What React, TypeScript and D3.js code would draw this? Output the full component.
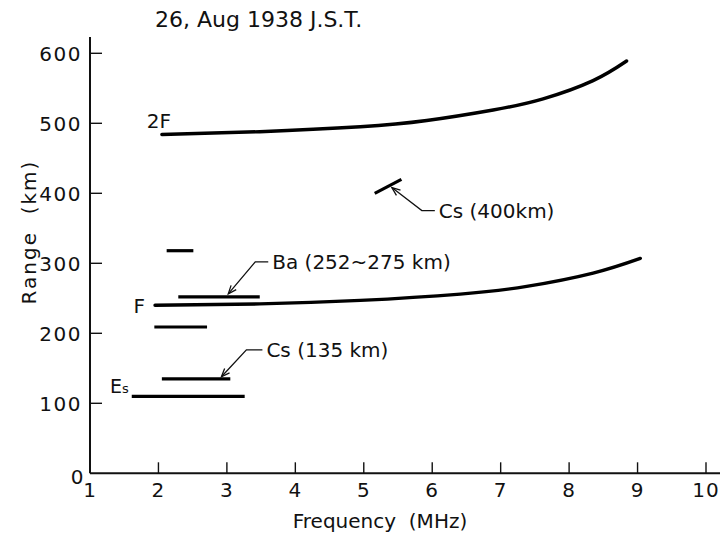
import React from "react";
import * as d3 from "d3";

// Axis ticks
const frequencyTicks = [1, 2, 3, 4, 5, 6, 7, 8, 9, 10];
const rangeTicks = [0, 100, 200, 300, 400, 500, 600];

// 2F trace (frequency in MHz, virtual range in km)
const layer2FFreq = [2.05, 3.48, 4.95, 5.92, 6.89, 7.62, 8.35, 8.84];
const layer2FRange = [484, 488, 495, 504, 519, 535, 561, 589];

// F trace
const layerFFreq = [1.95, 3.48, 4.95, 6.41, 7.38, 8.35, 9.04];
const layerFRange = [240, 242, 247, 256, 267, 286, 307];

// Short echo traces: Es, Cs (135 km), 209 km, Ba, 318 km, Cs (400 km)
const traceFreqStart = [1.61, 2.05, 1.94, 2.29, 2.12, 5.16];
const traceFreqEnd = [3.26, 3.05, 2.71, 3.48, 2.51, 5.55];
const traceRangeStart = [110, 135, 209, 252, 318, 400];
const traceRangeEnd = [110, 135, 209, 252, 318, 420];

// Callouts pointing at traces
const calloutLabels = ["Cs (400km)", "Ba (252~275 km)", "Cs (135 km)"];
const calloutFreq = [5.41, 3.02, 2.92];
const calloutRange = [411, 252, 135];

const W = 720;
const H = 537;
const FONT = "'DejaVu Sans', sans-serif";
const NB = "\u00a0";

export default function App() {
  const x = d3.scaleLinear().domain([1, 10]).range([90, 706]);
  const y = d3.scaleLinear().domain([0, 600]).range([473.3, 53.3]);

  const curve = d3
    .line<[number, number]>()
    .x((d) => x(d[0]))
    .y((d) => y(d[1]))
    .curve(d3.curveNatural);

  const pts2F = layer2FFreq.map((f, i) => [f, layer2FRange[i]] as [number, number]);
  const ptsF = layerFFreq.map((f, i) => [f, layerFRange[i]] as [number, number]);

  const axisX = x(1);
  const axisY = y(0);

  // leader geometry for each callout: elbow offset from tip, horizontal run
  const leaderLayout = [
    { tipDy: 2, dx: 30, dy: 23, run: 13 },
    { tipDy: -3, dx: 27, dy: -32, run: 13 },
    { tipDy: -2, dx: 25, dy: -27, run: 16 },
  ];

  const arrowHead = (tx: number, ty: number, ex: number, ey: number) => {
    const ang = Math.atan2(ey - ty, ex - tx);
    const len = 9;
    const spread = 0.38;
    const a1 = [tx + len * Math.cos(ang + spread), ty + len * Math.sin(ang + spread)];
    const a2 = [tx + len * Math.cos(ang - spread), ty + len * Math.sin(ang - spread)];
    return `M${a1[0]},${a1[1]}L${tx},${ty}L${a2[0]},${a2[1]}`;
  };

  const start2F = [x(layer2FFreq[0]), y(layer2FRange[0])];
  const startF = [x(layerFFreq[0]), y(layerFRange[0])];
  const startEs = [x(traceFreqStart[0]), y(traceRangeStart[0])];

  return (
    <svg
      width={W}
      height={H}
      viewBox={`0 0 ${W} ${H}`}
      style={{ position: "absolute", left: 0, top: 0, background: "#fff", display: "block" }}
      fontFamily={FONT}
    >
      <rect width={W} height={H} fill="#fff" />

      {/* title */}
      <text x={155} y={27} fontSize={22} fill="#111">
        26, Aug 1938 J.S.T.
      </text>

      {/* axes */}
      <line x1={axisX} y1={axisY} x2={axisX} y2={37} stroke="#111" strokeWidth={2} />
      <line x1={axisX} y1={axisY} x2={720} y2={axisY} stroke="#111" strokeWidth={2} />

      {rangeTicks.map((t) => (
        <g key={`yt${t}`}>
          {t > 0 && (
            <line x1={axisX} x2={axisX + 12} y1={y(t)} y2={y(t)} stroke="#111" strokeWidth={1.4} />
          )}
          <text
            x={t === 0 ? 85 : 82}
            y={y(t) + 7.5 + (t === 0 ? 3 : 0)}
            fontSize={20}
            textAnchor="end"
            letterSpacing={1.5}
            fill="#111"
          >
            {t}
          </text>
        </g>
      ))}

      {frequencyTicks.map((t) => (
        <g key={`xt${t}`}>
          {t > 1 && (
            <line x1={x(t)} x2={x(t)} y1={axisY} y2={axisY - 11} stroke="#111" strokeWidth={1.4} />
          )}
          <text x={x(t)} y={497} fontSize={20} textAnchor="middle" letterSpacing={1} fill="#111">
            {t}
          </text>
        </g>
      ))}

      {/* axis titles */}
      <text
        transform={`translate(36,232) rotate(-90)`}
        fontSize={20}
        textAnchor="middle"
        letterSpacing={2}
        fill="#111"
      >
        {`Range${NB}${NB}(km)`}
      </text>
      <text x={380} y={528} fontSize={20} textAnchor="middle" fill="#111">
        {`Frequency${NB}${NB}(MHz)`}
      </text>

      {/* layer traces */}
      <path d={curve(pts2F) || ""} fill="none" stroke="#000" strokeWidth={3.4} strokeLinecap="round" />
      <path d={curve(ptsF) || ""} fill="none" stroke="#000" strokeWidth={3.4} strokeLinecap="round" />

      {traceFreqStart.map((f, i) => (
        <line
          key={`tr${i}`}
          x1={x(f)}
          y1={y(traceRangeStart[i])}
          x2={x(traceFreqEnd[i])}
          y2={y(traceRangeEnd[i])}
          stroke="#000"
          strokeWidth={3.2}
        />
      ))}

      {/* trace labels */}
      <text x={start2F[0] - 15} y={start2F[1] - 6.5} fontSize={20} fill="#111">
        2F
      </text>
      <text x={startF[0] - 10} y={startF[1] + 8} fontSize={20} textAnchor="end" fill="#111">
        F
      </text>
      <text x={startEs[0] - 3} y={startEs[1] - 3} fontSize={19} textAnchor="end" fill="#111">
        E<tspan fontSize={13}>s</tspan>
      </text>

      {/* callouts */}
      {calloutLabels.map((label, i) => {
        const L = leaderLayout[i];
        const tx = x(calloutFreq[i]);
        const ty = y(calloutRange[i]) + L.tipDy;
        const ex = tx + L.dx;
        const ey = ty + L.dy;
        return (
          <g key={`co${i}`}>
            <path
              d={`M${tx},${ty}L${ex},${ey}L${ex + L.run},${ey}`}
              fill="none"
              stroke="#111"
              strokeWidth={1.3}
            />
            <path d={arrowHead(tx, ty, ex, ey)} fill="none" stroke="#111" strokeWidth={1.3} />
            <text x={ex + L.run + 4} y={ey + 7} fontSize={20} fill="#111">
              {label}
            </text>
          </g>
        );
      })}
    </svg>
  );
}
